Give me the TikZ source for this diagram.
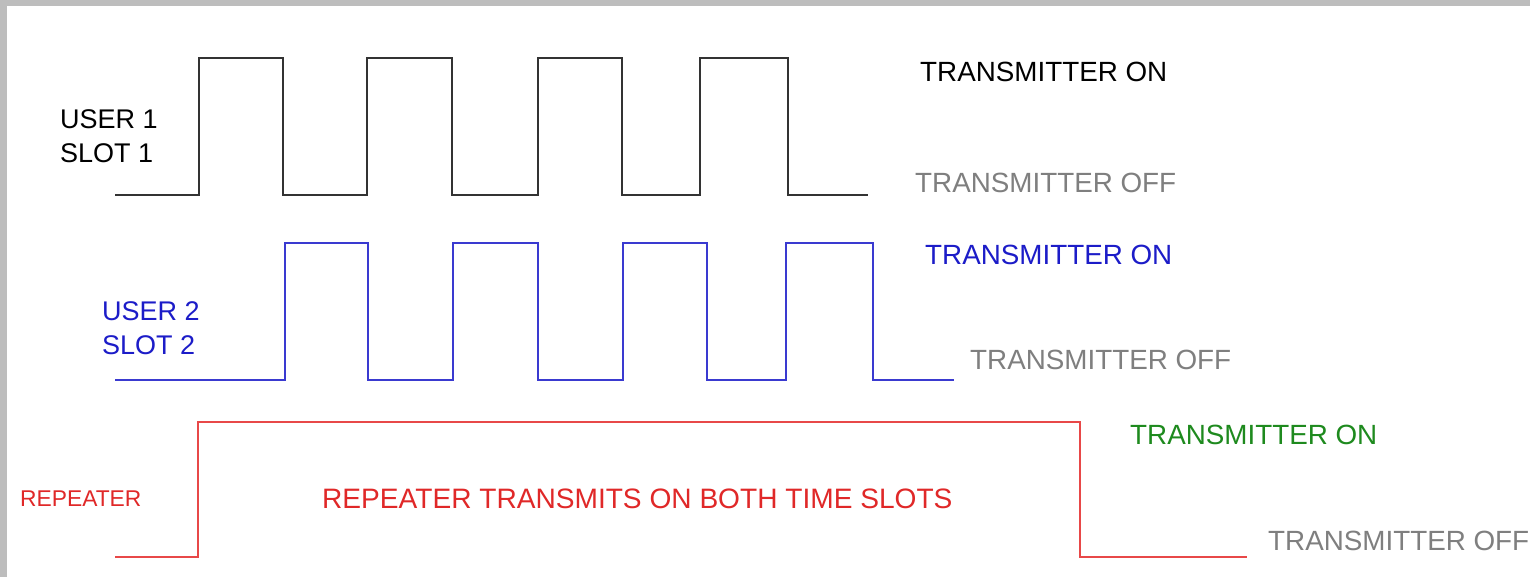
\documentclass[tikz,border=0pt]{standalone}
\usepackage{fontspec}
\setmainfont{Liberation Sans}
\definecolor{frame}{HTML}{BDBDBD}
\definecolor{wblack}{HTML}{333333}
\definecolor{wblue}{HTML}{3A3AD0}
\definecolor{wred}{HTML}{E84848}
\definecolor{tgray}{HTML}{7F7F7F}
\definecolor{tblue}{HTML}{1C1CC8}
\definecolor{tgreen}{HTML}{1E8A1E}
\definecolor{tred}{HTML}{E02828}
\tikzset{
  wave/.style={line width=2.8pt, line join=miter},
  lbl/.style={anchor=west, inner sep=0pt, font=\fontsize{27.8}{33}\selectfont},
  wide/.style={anchor=west, inner sep=0pt, font=\fontsize{28.1}{33}\selectfont},
  small/.style={anchor=west, inner sep=0pt, font=\fontsize{22.8}{27}\selectfont},
  two/.style={anchor=west, inner sep=0pt, align=left, font=\fontsize{27}{34.5}\selectfont}
}
\begin{document}
\begin{tikzpicture}[x=1pt,y=-1pt]
\useasboundingbox (0,0) rectangle (1530,577);
\fill[frame] (0,0) rectangle (1530,577);
\fill[white] (7,6) rectangle (1530,577);
% user 1
\draw[wave,wblack] (115,195) -- (199,195) -- (199,58) -- (283,58) -- (283,195)
  -- (367,195) -- (367,58) -- (452,58) -- (452,195)
  -- (538,195) -- (538,58) -- (622,58) -- (622,195)
  -- (700,195) -- (700,58) -- (788,58) -- (788,195) -- (868,195);
% user 2
\draw[wave,wblue] (115,380) -- (285,380) -- (285,243) -- (368,243) -- (368,380)
  -- (453,380) -- (453,243) -- (538,243) -- (538,380)
  -- (623,380) -- (623,243) -- (707,243) -- (707,380)
  -- (786,380) -- (786,243) -- (873,243) -- (873,380) -- (954,380);
% repeater
\draw[wave,wred] (115,557) -- (198,557) -- (198,422) -- (1080,422) -- (1080,557) -- (1247,557);
% labels
\node[two,black] (u1) at (60,136) {USER 1\\SLOT 1};
\node[two,tblue] (u2) at (102,328) {USER 2\\SLOT 2};
\node[small,tred] (rp) at (20,499) {REPEATER};
\node[lbl,black] (on1) at (920,72) {TRANSMITTER ON};
\node[lbl,tgray] (off1) at (915,183) {TRANSMITTER OFF};
\node[lbl,tblue] (on2) at (925,255) {TRANSMITTER ON};
\node[lbl,tgray] (off2) at (970,360) {TRANSMITTER OFF};
\node[lbl,tgreen] (on3) at (1130,435) {TRANSMITTER ON};
\node[wide,tred] (both) at (322,499) {REPEATER TRANSMITS ON BOTH TIME SLOTS};
\node[lbl,tgray] (off3) at (1268,541) {TRANSMITTER OFF};
\end{tikzpicture}
\end{document}
